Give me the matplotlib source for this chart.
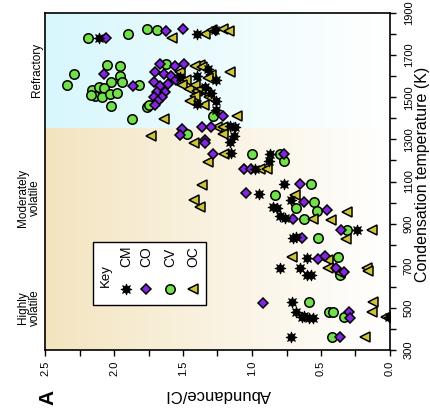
import numpy as np
import matplotlib
matplotlib.use("Agg")
import matplotlib.pyplot as plt
from matplotlib.lines import Line2D
from matplotlib.patches import Rectangle
from matplotlib.ticker import MultipleLocator

plt.rcParams['font.family'] = ['Liberation Sans', 'DejaVu Sans']

# condensation temperature (K) and abundance/CI per chondrite group
cm_temp = [1783, 1802, 1818, 1635, 1600, 1597, 1580, 1548, 1520, 1470, 1484, 1440,
           1363, 1359, 1318, 1289, 1237, 1232, 1198, 1158, 1089, 1042, 1010, 979,
           975, 937, 928, 868, 838, 832, 737, 690, 687, 658, 655, 529, 481, 462,
           457, 450, 450, 455, 362]
cm_abund = [2.11, 1.40, 1.27, 1.32, 1.40, 1.52, 1.26, 1.34, 1.30, 1.40, 1.26, 1.26,
            1.16, 1.12, 1.13, 1.16, 1.15, 0.87, 0.88, 0.98, 0.77, 0.95, 0.72, 0.85,
            0.82, 0.80, 0.76, 0.24, 0.68, 0.70, 0.60, 0.80, 0.65, 0.57, 0.60, 0.71,
            0.68, 0.62, 0.64, 0.59, 0.555, 0.01, 0.72]

co_temp = [1783, 1612, 1554, 1815, 1826, 1658, 1650, 1658, 1619, 1610, 1600, 1571,
           1555, 1565, 1580, 1524, 1524, 1500, 1500, 1484, 1461, 1413, 1361, 1361,
           1350, 1323, 1295, 1284, 1232, 1232, 1160, 1158, 1047, 1089, 1004, 963,
           924, 868, 832, 730, 748, 690, 671, 525, 481, 450, 362]
co_abund = [2.06, 2.07, 1.86, 1.62, 1.50, 1.67, 1.56, 1.49, 1.70, 1.64, 1.59, 1.71,
            1.67, 1.61, 1.55, 1.69, 1.63, 1.71, 1.65, 1.68, 1.70, 1.21, 1.36, 1.30,
            1.51, 1.52, 1.34, 1.34, 1.28, 0.77, 1.06, 1.01, 1.04, 0.65, 0.62, 0.46,
            0.70, 0.355, 0.64, 0.52, 0.47, 0.39, 0.33, 0.92, 0.30, 0.29, 0.36]

cv_temp = [1783, 1802, 1823, 1818, 1655, 1649, 1612, 1601, 1557, 1573, 1573, 1534,
           1549, 1545, 1507, 1502, 1517, 1522, 1510, 1560, 1458, 1396, 1454, 1658,
           1461, 1413, 1327, 1232, 1232, 1195, 1089, 1037, 1004, 974, 958, 920, 868,
           832, 742, 655, 529, 481, 481, 455, 362]
cv_abund = [2.19, 1.90, 1.76, 1.69, 2.05, 1.96, 2.29, 1.96, 2.34, 2.02, 1.94, 2.16,
            2.11, 2.07, 2.14, 2.09, 2.03, 1.98, 2.17, 1.82, 2.02, 1.87, 1.76, 1.62,
            1.75, 1.28, 1.47, 1.00, 0.80, 0.77, 0.57, 0.83, 0.55, 0.68, 0.53, 0.62,
            0.31, 0.52, 0.38, 0.36, 0.59, 0.44, 0.41, 0.33, 0.42]

oc_temp = [1783, 1802, 1818, 1823, 1815, 1655, 1650, 1645, 1619, 1605, 1620, 1580,
           1560, 1540, 1560, 1530, 1508, 1520, 1500, 1540, 1590, 1461, 1480, 1397,
           1413, 1361, 1361, 1327, 1316, 1284, 1232, 1192, 1160, 1160, 1085, 1010,
           979, 1037, 957, 924, 916, 868, 829, 742, 726, 690, 687, 675, 665, 529,
           481, 455, 362]
oc_abund = [1.58, 1.34, 1.29, 1.21, 1.17, 1.38, 1.41, 1.36, 1.16, 1.30, 1.52, 1.48,
            1.51, 1.46, 1.41, 1.40, 1.41, 1.33, 1.31, 1.37, 1.32, 1.35, 1.45, 1.64,
            1.11, 1.25, 1.21, 1.21, 1.73, 1.42, 1.20, 1.32, 0.94, 0.89, 1.36, 1.42,
            1.38, 0.69, 0.31, 0.56, 0.43, 0.13, 0.32, 0.71, 0.45, 0.45, 0.17, 0.16,
            0.36, 0.12, 0.13, 0.03, 0.18]

temp_ticks = [300, 500, 700, 900, 1100, 1300, 1500, 1700, 1900]
abund_ticks = [0.0, 0.5, 1.0, 1.5, 2.0, 2.5]
zone_split = 1350

W, H = 431, 417
fig = plt.figure(figsize=(W / 100, H / 100), dpi=100)
ax = fig.add_axes([45 / W, 1 - 350 / H, 345 / W, 337 / H])

# shaded volatility zones, fading to white towards low abundance
g = np.linspace(0, 1, 256) ** 0.9
def fade(rgb):
    c = np.array(rgb) / 255.0
    return (c[None, :] * (1 - g[:, None]) + g[:, None])[None, :, :]

ax.imshow(fade((214, 247, 252)), extent=(2.5, 0, zone_split, 1900), aspect='auto',
          zorder=0, interpolation='bilinear')
ax.imshow(fade((243, 228, 190)), extent=(2.5, 0, 300, zone_split), aspect='auto',
          zorder=0, interpolation='bilinear')

ax.plot(cv_abund, cv_temp, 'o', ms=6.8, mfc='#72e04a', mec='black', mew=1.1, zorder=3)
ax.plot(oc_abund, oc_temp, '<', ms=7, mfc='#cdc43a', mec='black', mew=1.1, zorder=4)
ax.plot(co_abund, co_temp, 'D', ms=5.6, mfc='#8326e0', mec='black', mew=1.1, zorder=5)
ax.plot(cm_abund, cm_temp, marker=(8, 1, 0), ls='none', ms=8, mfc='black',
        mec='black', mew=0.6, zorder=6)

ax.set_xlim(2.5, 0)
ax.set_ylim(300, 1900)
ax.yaxis.tick_right()
ax.set_xticks(abund_ticks)
ax.set_xticklabels([f"{v:.1f}" for v in abund_ticks])
ax.xaxis.set_minor_locator(MultipleLocator(0.25))
ax.set_yticks(temp_ticks)
ax.set_yticklabels([str(v) for v in temp_ticks])
ax.yaxis.set_minor_locator(MultipleLocator(100))
ax.tick_params(which='both', direction='out', length=4, width=1.0)
ax.tick_params(axis='x', pad=4, labelsize=8)
ax.tick_params(axis='y', pad=6, labelsize=8)
for lab in ax.get_xticklabels():
    lab.set_rotation(90)
for lab in ax.get_yticklabels():
    lab.set_rotation(90)
    lab.set_va('center')
for s in ax.spines.values():
    s.set_linewidth(1.2)

def fx(px):
    return px / W

def fy(py):
    return 1 - py / H

fig.text(fx(423), fy(174), "Condensation temperature (K)", rotation=90,
         ha='center', va='center', fontsize=11.5)
fig.text(fx(218), fy(394), "Abundance/CI", rotation=180, ha='center',
         va='center', fontsize=12)
fig.text(fx(48), fy(397), "A", rotation=90, ha='center', va='center',
         fontsize=15, fontweight='bold')
fig.text(fx(37), fy(70), "Refractory", rotation=90, ha='center', va='center',
         fontsize=8.5)
fig.text(fx(29), fy(198), "Moderately\nvolatile", rotation=90, ha='center',
         va='center', fontsize=8.5, multialignment='center', linespacing=1.0)
fig.text(fx(29), fy(308), "Highly\nvolatile", rotation=90, ha='center',
         va='center', fontsize=8.5, multialignment='center', linespacing=1.0)

# key box
fig.add_artist(Rectangle((fx(93), fy(305)), 113 / W, 63 / H, transform=fig.transFigure,
                         facecolor='white', edgecolor='black', lw=1.0, zorder=7))
fig.text(fx(106), fy(276), "Key", rotation=90, ha='center', va='center',
         fontsize=9.5, zorder=8)
key_items = [("CM", 126, dict(marker=(8, 1, 0), ms=8, mfc='black', mec='black', mew=0.6)),
             ("CO", 146, dict(marker='D', ms=5.6, mfc='#8326e0', mec='black', mew=1.1)),
             ("CV", 170, dict(marker='o', ms=6.8, mfc='#72e04a', mec='black', mew=1.1)),
             ("OC", 193, dict(marker='<', ms=7, mfc='#cdc43a', mec='black', mew=1.1))]
for name, px, style in key_items:
    fig.add_artist(Line2D([fx(px)], [fy(289)], transform=fig.transFigure, ls='none',
                          zorder=8, **style))
    fig.text(fx(px), fy(267), name, rotation=90, ha='center', va='bottom',
             fontsize=10, zorder=8)

fig.savefig("out.png", dpi=100)
